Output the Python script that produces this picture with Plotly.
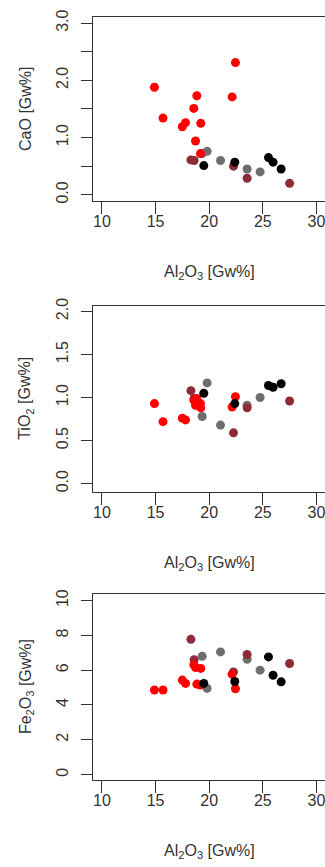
import plotly.graph_objects as go

# ---------------- data ----------------
groups = ["G1", "G2", "G3", "G4"]

al2o3 = [14.9, 15.7, 17.5, 17.8, 18.57, 18.85, 19.22, 18.73, 19.19, 22.14, 22.45,
         18.3, 18.6, 22.27, 23.54, 27.5,
         19.35, 19.81, 21.06, 23.54, 24.75,
         19.5, 22.39, 25.53, 25.96, 26.71]
cao = [1.88, 1.34, 1.19, 1.26, 1.51, 1.73, 1.25, 0.94, 0.72, 1.71, 2.31,
       0.61, 0.60, 0.50, 0.29, 0.20,
       0.72, 0.76, 0.60, 0.45, 0.40,
       0.51, 0.57, 0.65, 0.57, 0.45]
tio2 = [0.93, 0.72, 0.76, 0.74, 0.97, 0.99, 0.88, 0.91, 0.93, 0.89, 1.01,
        1.08, 0.99, 0.59, 0.88, 0.96,
        0.78, 1.17, 0.68, 0.91, 1.00,
        1.05, 0.93, 1.14, 1.12, 1.16]
fe2o3 = [4.86, 4.86, 5.43, 5.24, 6.30, 5.20, 6.10, 6.15, 5.15, 5.77, 4.93,
         7.77, 6.60, 5.90, 6.90, 6.38,
         6.80, 4.95, 7.05, 6.63, 6.00,
         5.24, 5.35, 6.76, 5.71, 5.33]
group = ["G1"] * 11 + ["G2"] * 5 + ["G3"] * 5 + ["G4"] * 5

x_ticks = [10, 15, 20, 25, 30]
cao_ticks = [0, 1, 2, 3]
cao_ticktext = ["0.0", "1.0", "2.0", "3.0"]
cao_minor_ticks = [0.5, 1.5, 2.5]
tio2_ticks = [0, 0.5, 1, 1.5, 2]
tio2_ticktext = ["0.0", "0.5", "1.0", "1.5", "2.0"]
fe2o3_ticks = [0, 2, 4, 6, 8, 10]
fe2o3_ticktext = ["0", "2", "4", "6", "8", "10"]

# ---------------- style ----------------
W, H = 325, 867
colors = {"G1": "#FF0000", "G2": "#8E2B38", "G3": "#6E6E6E", "G4": "#000000"}
draw_order = ["G3", "G2", "G1", "G4"]
FONT = "Liberation Sans, Arial, sans-serif"
TXT = "#333333"

def py(p):
    return 1 - p / H

box_left = 93.3
panels = [
    dict(vals=cao, top=9.5, bottom=195, yrange=[-0.1, 3.1], tv=cao_ticks, tt=cao_ticktext,
         minor=cao_minor_ticks, title="CaO [Gw%]"),
    dict(vals=tio2, top=301.7, bottom=490, yrange=[-0.095, 2.065], tv=tio2_ticks, tt=tio2_ticktext,
         minor=None, title="TiO<sub>2</sub> [Gw%]"),
    dict(vals=fe2o3, top=594, bottom=781.7, yrange=[-0.3, 10.35], tv=fe2o3_ticks, tt=fe2o3_ticktext,
         minor=None, title="Fe<sub>2</sub>O<sub>3</sub> [Gw%]"),
]

fig = go.Figure()
layout = dict(width=W, height=H, margin=dict(l=0, r=0, t=0, b=0),
              paper_bgcolor="white", plot_bgcolor="white", showlegend=False,
              font=dict(family=FONT, size=16, color=TXT))
annotations = []

for i, p in enumerate(panels, start=1):
    xa = "x" if i == 1 else f"x{i}"
    ya = "y" if i == 1 else f"y{i}"
    for g in draw_order:
        xs = [a for a, gg in zip(al2o3, group) if gg == g]
        ys = [v for v, gg in zip(p["vals"], group) if gg == g]
        fig.add_trace(go.Scatter(x=xs, y=ys, mode="markers", xaxis=xa, yaxis=ya,
                                 marker=dict(color=colors[g], size=9, line=dict(width=0)),
                                 hoverinfo="skip"))
    xkey = "xaxis" if i == 1 else f"xaxis{i}"
    ykey = "yaxis" if i == 1 else f"yaxis{i}"
    layout[xkey] = dict(domain=[box_left / W, 1.0], range=[9.2, 30.8], anchor=ya,
                        tickvals=x_ticks, ticks="outside", ticklen=12, tickcolor=TXT,
                        ticklabeloverflow="allow", ticklabelstandoff=-6,
                        showline=True, linecolor=TXT, linewidth=1, mirror=True,
                        showgrid=False, zeroline=False,
                        tickfont=dict(family=FONT, size=16, color=TXT))
    yax = dict(domain=[py(p["bottom"]), py(p["top"])], range=p["yrange"], anchor=xa,
               tickvals=p["tv"], ticktext=p["tt"], ticks="outside", ticklen=11,
               tickcolor=TXT, tickangle=-90, ticklabelstandoff=7,
               showline=True, linecolor=TXT, linewidth=1, mirror=False,
               showgrid=False, zeroline=False,
               tickfont=dict(family=FONT, size=16, color=TXT))
    if p["minor"]:
        yax["minor"] = dict(tickvals=p["minor"], ticks="outside", ticklen=11, tickcolor=TXT,
                            showgrid=False)
    layout[ykey] = yax
    annotations.append(dict(text="Al<sub>2</sub>O<sub>3</sub> [Gw%]", xref="paper", yref="paper",
                            x=209 / W, y=py(p["bottom"] + 73), xanchor="center", yanchor="middle",
                            showarrow=False, font=dict(family=FONT, size=16, color=TXT)))
    annotations.append(dict(text=p["title"], xref="paper", yref="paper", textangle=-90,
                            x=26 / W, y=py((p["top"] + p["bottom"]) / 2),
                            xanchor="center", yanchor="middle",
                            showarrow=False, font=dict(family=FONT, size=16, color=TXT)))

layout["annotations"] = annotations
fig.update_layout(**layout)
fig.write_html("out.html", config={"displayModeBar": False},
               post_script="document.body.style.margin='0px';document.body.style.overflow='hidden';")
